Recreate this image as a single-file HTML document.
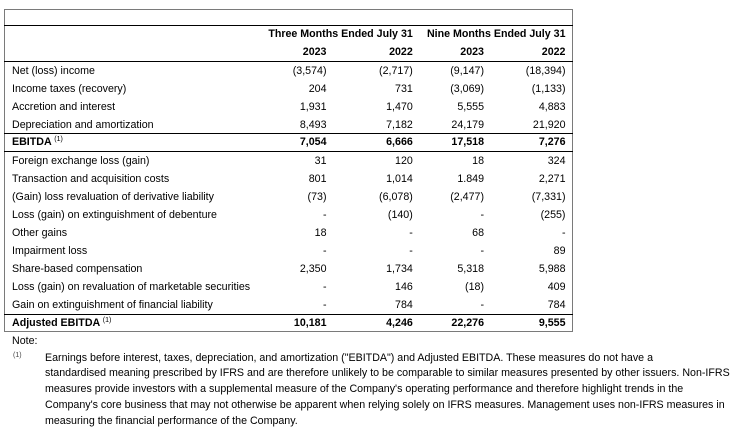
<!DOCTYPE html>
<html>
<head>
<meta charset="utf-8">
<style>
html,body{margin:0;padding:0;background:#fff;}
body{width:749px;height:443px;position:relative;overflow:hidden;font-family:"Liberation Sans",Arial,sans-serif;font-size:10.67px;color:#000;}
.box{position:absolute;left:4px;top:9px;width:569px;height:323px;border:1px solid #7a7a7a;box-sizing:border-box;}
.ln{position:absolute;left:4px;width:569px;height:1px;background:#000;}
.r{position:absolute;left:0;width:749px;height:18px;line-height:18px;white-space:nowrap;}
.l{position:absolute;left:12px;top:0;}
.c{position:absolute;left:0;top:0;text-align:right;}
.c1{width:326.5px;}
.c2{width:412.8px;}
.c3{width:484px;}
.c4{width:565.5px;}
.p{padding-right:3.55px;}
.d{padding-right:5px;}
.b{font-weight:bold;}
sup{font-size:7px;vertical-align:0;position:relative;top:-3.5px;font-weight:normal;}
.fn{position:absolute;left:45px;line-height:15.8px;white-space:nowrap;}
</style>
</head>
<body>
<div class="box"></div>
<div class="ln" style="top:25px"></div>
<div class="ln" style="top:61px"></div>
<div class="ln" style="top:133px"></div>
<div class="ln" style="top:151px"></div>
<div class="ln" style="top:314px"></div>

<div class="r b" style="top:25px">
  <div class="c c2 p">Three Months Ended July 31</div>
  <div class="c c4 p">Nine Months Ended July 31</div>
</div>
<div class="r b" style="top:43px">
  <div class="c c1 p">2023</div>
  <div class="c c2 p">2022</div>
  <div class="c c3 p">2023</div>
  <div class="c c4 p">2022</div>
</div>

<div class="r" style="top:62px">
  <div class="l">Net (loss) income</div>
  <div class="c c1">(3,574)</div>
  <div class="c c2">(2,717)</div>
  <div class="c c3">(9,147)</div>
  <div class="c c4">(18,394)</div>
</div>
<div class="r" style="top:80px">
  <div class="l">Income taxes (recovery)</div>
  <div class="c c1 p">204</div>
  <div class="c c2 p">731</div>
  <div class="c c3">(3,069)</div>
  <div class="c c4">(1,133)</div>
</div>
<div class="r" style="top:98px">
  <div class="l">Accretion and interest</div>
  <div class="c c1 p">1,931</div>
  <div class="c c2 p">1,470</div>
  <div class="c c3 p">5,555</div>
  <div class="c c4 p">4,883</div>
</div>
<div class="r" style="top:115.5px">
  <div class="l">Depreciation and amortization</div>
  <div class="c c1 p">8,493</div>
  <div class="c c2 p">7,182</div>
  <div class="c c3 p">24,179</div>
  <div class="c c4 p">21,920</div>
</div>
<div class="r b" style="top:132.5px">
  <div class="l">EBITDA <sup>(1)</sup></div>
  <div class="c c1 p">7,054</div>
  <div class="c c2 p">6,666</div>
  <div class="c c3 p">17,518</div>
  <div class="c c4 p">7,276</div>
</div>

<div class="r" style="top:152px">
  <div class="l">Foreign exchange loss (gain)</div>
  <div class="c c1 p">31</div>
  <div class="c c2 p">120</div>
  <div class="c c3 p">18</div>
  <div class="c c4 p">324</div>
</div>
<div class="r" style="top:170px">
  <div class="l">Transaction and acquisition costs</div>
  <div class="c c1 p">801</div>
  <div class="c c2 p">1,014</div>
  <div class="c c3 p">1.849</div>
  <div class="c c4 p">2,271</div>
</div>
<div class="r" style="top:188px">
  <div class="l">(Gain) loss revaluation of derivative liability</div>
  <div class="c c1">(73)</div>
  <div class="c c2">(6,078)</div>
  <div class="c c3">(2,477)</div>
  <div class="c c4">(7,331)</div>
</div>
<div class="r" style="top:206px">
  <div class="l">Loss (gain) on extinguishment of debenture</div>
  <div class="c c1 d">-</div>
  <div class="c c2">(140)</div>
  <div class="c c3 d">-</div>
  <div class="c c4">(255)</div>
</div>
<div class="r" style="top:224px">
  <div class="l">Other gains</div>
  <div class="c c1 p">18</div>
  <div class="c c2 d">-</div>
  <div class="c c3 p">68</div>
  <div class="c c4 d">-</div>
</div>
<div class="r" style="top:242px">
  <div class="l">Impairment loss</div>
  <div class="c c1 d">-</div>
  <div class="c c2 d">-</div>
  <div class="c c3 d">-</div>
  <div class="c c4 p">89</div>
</div>
<div class="r" style="top:260px">
  <div class="l">Share-based compensation</div>
  <div class="c c1 p">2,350</div>
  <div class="c c2 p">1,734</div>
  <div class="c c3 p">5,318</div>
  <div class="c c4 p">5,988</div>
</div>
<div class="r" style="top:278px">
  <div class="l">Loss (gain) on revaluation of marketable securities</div>
  <div class="c c1 d">-</div>
  <div class="c c2 p">146</div>
  <div class="c c3">(18)</div>
  <div class="c c4 p">409</div>
</div>
<div class="r" style="top:296px">
  <div class="l">Gain on extinguishment of financial liability</div>
  <div class="c c1 d">-</div>
  <div class="c c2 p">784</div>
  <div class="c c3 d">-</div>
  <div class="c c4 p">784</div>
</div>
<div class="r b" style="top:313.5px">
  <div class="l">Adjusted EBITDA <sup>(1)</sup></div>
  <div class="c c1 p">10,181</div>
  <div class="c c2 p">4,246</div>
  <div class="c c3 p">22,276</div>
  <div class="c c4 p">9,555</div>
</div>

<div style="position:absolute;left:12px;top:334px;line-height:14.2px;white-space:nowrap;">Note:</div>
<div style="position:absolute;left:13px;top:350.5px;line-height:15.8px;font-size:7px;color:#444;white-space:nowrap;"><span style="position:relative;top:-3px">(1)</span></div>
<div class="fn" style="top:350.5px">Earnings before interest, taxes, depreciation, and amortization ("EBITDA") and Adjusted EBITDA. These measures do not have a<br>standardised meaning prescribed by IFRS and are therefore unlikely to be comparable to similar measures presented by other issuers. Non-IFRS<br>measures provide investors with a supplemental measure of the Company's operating performance and therefore highlight trends in the<br>Company's core business that may not otherwise be apparent when relying solely on IFRS measures. Management uses non-IFRS measures in<br>measuring the financial performance of the Company.</div>
</body>
</html>
